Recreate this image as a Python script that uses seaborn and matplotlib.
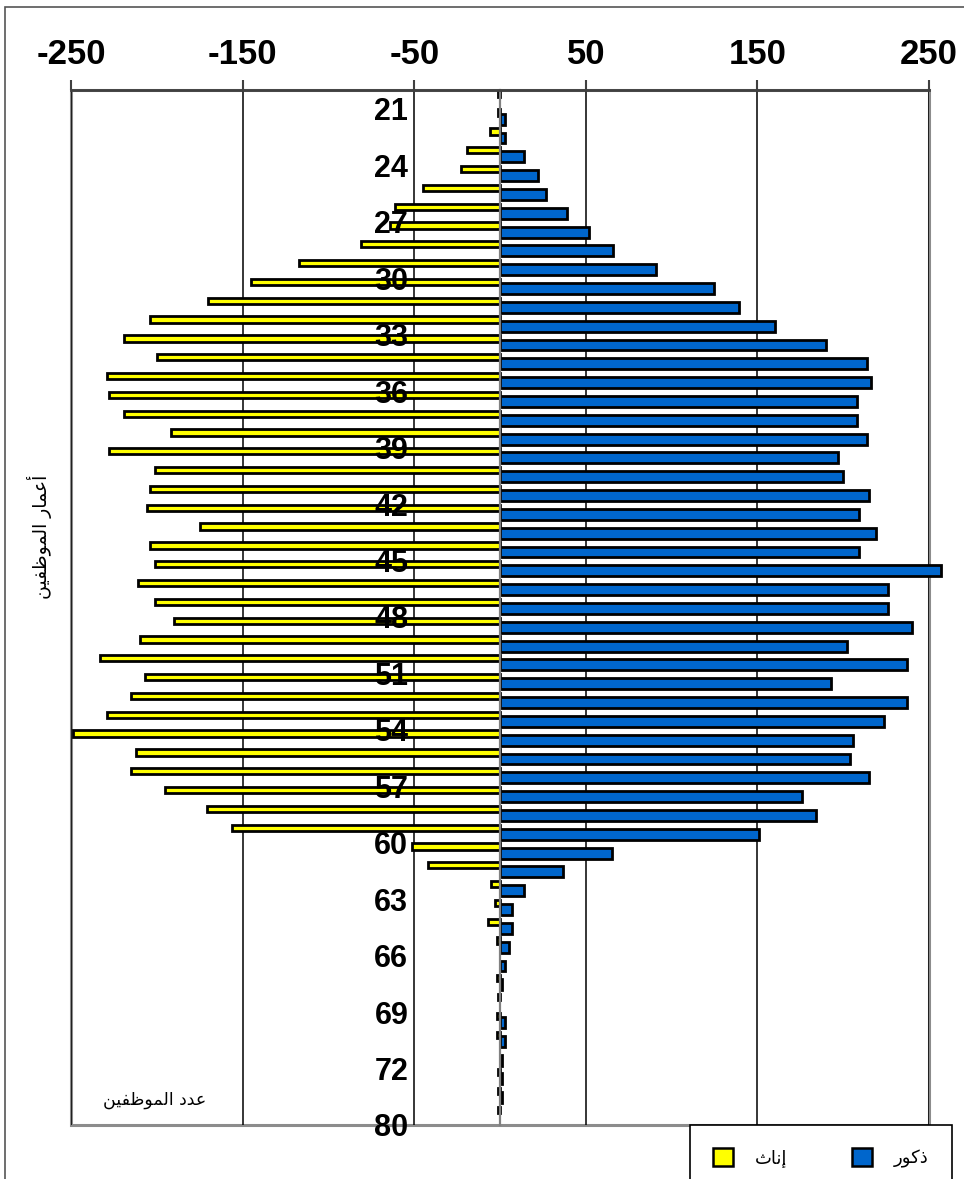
import matplotlib
matplotlib.use('Agg')
import matplotlib.pyplot as plt
import matplotlib.patches as mpatches
import numpy as np
import pandas as pd
import seaborn as sns

# ages (category axis), number of female / male employees per age
ages = ['20', '21', '22', '23', '24', '25', '26', '27', '28', '29',
        '30', '31', '32', '33', '34', '35', '36', '37', '38', '39',
        '40', '41', '42', '43', '44', '45', '46', '47', '48', '49',
        '50', '51', '52', '53', '54', '55', '56', '57', '58', '59',
        '60', '61', '62', '63', '64', '65', '66', '67', '68', '69',
        '70', '71', '72', '73', '74', '80']
females = [1, 1, 6, 19, 23, 45, 61, 64, 81, 117,
           145, 170, 204, 219, 200, 229, 228, 219, 192, 228,
           201, 204, 206, 175, 204, 201, 211, 201, 190, 210,
           233, 207, 215, 229, 249, 212, 215, 195, 171, 156,
           51, 42, 5, 3, 7, 2, np.nan, 2, 1, 2,
           2, np.nan, 1, 1, 1, np.nan]
males = [np.nan, 3, 3, 14, 22, 27, 39, 52, 66, 91,
         125, 139, 160, 190, 214, 216, 208, 208, 214, 197,
         200, 215, 209, 219, 209, 257, 226, 226, 240, 202,
         237, 193, 237, 224, 206, 204, 215, 176, 184, 151,
         65, 37, 14, 7, 7, 5, 3, 1, np.nan, 3,
         3, 1, 1, 1, np.nan, np.nan]
x_ticks = [-250, -150, -50, 50, 150, 250]

title_y = 'أعمار الموظفين'
title_x = 'عدد الموظفين'
label_f = 'إناث'
label_m = 'ذكور'

# matplotlib has no arabic shaping: pick the contextual forms by hand
# (isolated, final, initial, medial)
AR_FORMS = {
    'ا': ('\uFE8D', '\uFE8E', None, None),
    'أ': ('\uFE83', '\uFE84', None, None),
    'إ': ('\uFE87', '\uFE88', None, None),
    'د': ('\uFEA9', '\uFEAA', None, None),
    'ذ': ('\uFEAB', '\uFEAC', None, None),
    'ر': ('\uFEAD', '\uFEAE', None, None),
    'و': ('\uFEED', '\uFEEE', None, None),
    'ث': ('\uFE99', '\uFE9A', '\uFE9B', '\uFE9C'),
    'ظ': ('\uFEC5', '\uFEC6', '\uFEC7', '\uFEC8'),
    'ع': ('\uFEC9', '\uFECA', '\uFECB', '\uFECC'),
    'ف': ('\uFED1', '\uFED2', '\uFED3', '\uFED4'),
    'ك': ('\uFED9', '\uFEDA', '\uFEDB', '\uFEDC'),
    'ل': ('\uFEDD', '\uFEDE', '\uFEDF', '\uFEE0'),
    'م': ('\uFEE1', '\uFEE2', '\uFEE3', '\uFEE4'),
    'ن': ('\uFEE5', '\uFEE6', '\uFEE7', '\uFEE8'),
    'ي': ('\uFEF1', '\uFEF2', '\uFEF3', '\uFEF4'),
}


def shape_ar(text):
    out = []
    for i, ch in enumerate(text):
        if ch not in AR_FORMS:
            out.append(ch)
            continue
        iso, fin, ini, med = AR_FORMS[ch]
        prev = text[i - 1] if i > 0 else ''
        nxt = text[i + 1] if i + 1 < len(text) else ''
        join_prev = prev in AR_FORMS and AR_FORMS[prev][2] is not None
        join_next = ini is not None and nxt in AR_FORMS
        if join_prev and join_next:
            out.append(med)
        elif join_prev:
            out.append(fin)
        elif join_next:
            out.append(ini)
        else:
            out.append(iso)
    return ''.join(reversed(out))


sns.set_style('white')
plt.rcParams['font.family'] = ['Liberation Sans', 'DejaVu Sans']
plt.rcParams['text.color'] = 'black'

YELLOW = '#FFFF00'
BLUE = '#0066CC'

fig = plt.figure(figsize=(9.64, 11.79), dpi=100)
ax = fig.add_axes([71 / 964, 1 - 1125 / 1179, 858 / 964, 1035 / 1179])

idx = np.arange(len(ages))
df_f = pd.DataFrame({'n': -np.array(females, dtype=float), 'pos': idx + 0.2}).dropna()
df_m = pd.DataFrame({'n': np.array(males, dtype=float), 'pos': idx + 0.55}).dropna()

sns.barplot(data=df_f, x='n', y='pos', orient='y', native_scale=True, width=0.33,
            color=YELLOW, saturation=1, edgecolor='black', linewidth=2.0,
            errorbar=None, ax=ax)
sns.barplot(data=df_m, x='n', y='pos', orient='y', native_scale=True, width=0.58,
            color=BLUE, saturation=1, edgecolor='black', linewidth=2.0,
            errorbar=None, ax=ax)
for p in ax.patches:
    p.set_clip_on(False)

ax.set_xlim(-250, 250)
ax.set_ylim(55, 0)
ax.set_xlabel('')
ax.set_ylabel('')

# age axis sits on zero (set before the ticks, moving a spine resets them)
ax.spines['left'].set_position(('data', 0))
ax.spines['left'].set_color('#808080')
ax.spines['left'].set_linewidth(1.6)
ax.spines['top'].set_color('#404040')
ax.spines['top'].set_linewidth(2)
ax.spines['right'].set_visible(False)
ax.spines['bottom'].set_visible(False)

# top value axis
ax.xaxis.tick_top()
ax.set_xticks(x_ticks)
ax.set_xticklabels([str(v) for v in x_ticks])
ax.tick_params(axis='x', direction='out', length=7, width=1.5, color='#404040',
               pad=7, labelsize=25, labelcolor='black')
ax.grid(axis='x', color='black', linewidth=1.1)
ax.grid(axis='y', visible=False)
ax.set_axisbelow(True)

ax.set_yticks(idx)
ax.set_yticklabels([a if k % 3 == 1 else '' for k, a in enumerate(ages)])
ax.tick_params(axis='y', direction='out', length=6, width=1.2, color='#808080',
               pad=60, labelsize=22, labelcolor='black')
for t in ax.get_xticklabels() + ax.get_yticklabels():
    t.set_fontweight('bold')
# age labels are written over the bars, the grid stays behind them
ax.yaxis.set_zorder(3)

ax.add_patch(mpatches.Rectangle((0, 0), 1, 1, transform=ax.transAxes, fill=False,
                                edgecolor='#8c8c8c', linewidth=2.2, clip_on=False, zorder=0.5))

fig.text(40 / 964, 1 - 537 / 1179, shape_ar(title_y), rotation=90, fontsize=13.5,
         family='DejaVu Sans', ha='center', va='center')
fig.text(155 / 964, 1 - 1100 / 1179, shape_ar(title_x), fontsize=12.5,
         family='DejaVu Sans', ha='center', va='center')

handles = [mpatches.Patch(facecolor=YELLOW, edgecolor='black', linewidth=1.8),
           mpatches.Patch(facecolor=BLUE, edgecolor='black', linewidth=1.8)]
leg = fig.legend(handles, [shape_ar(label_f), shape_ar(label_m)], ncol=2,
                 loc='upper left', bbox_to_anchor=(690 / 964, 1 - 1125 / 1179),
                 frameon=True, fancybox=False, edgecolor='black',
                 handlelength=1.1, handleheight=1.1, handletextpad=1.2,
                 columnspacing=3.6, borderpad=1.3, borderaxespad=0,
                 prop={'family': 'DejaVu Sans', 'size': 13})
leg.get_frame().set_linewidth(1.2)
leg.get_frame().set_alpha(1)

# chart area border
fig.patches.append(mpatches.Rectangle((5 / 964, -0.1), 1.2, 1.1 - 7 / 1179,
                                      transform=fig.transFigure, fill=False,
                                      edgecolor='#555555', linewidth=1.2))

fig.savefig('out.png', dpi=100)
